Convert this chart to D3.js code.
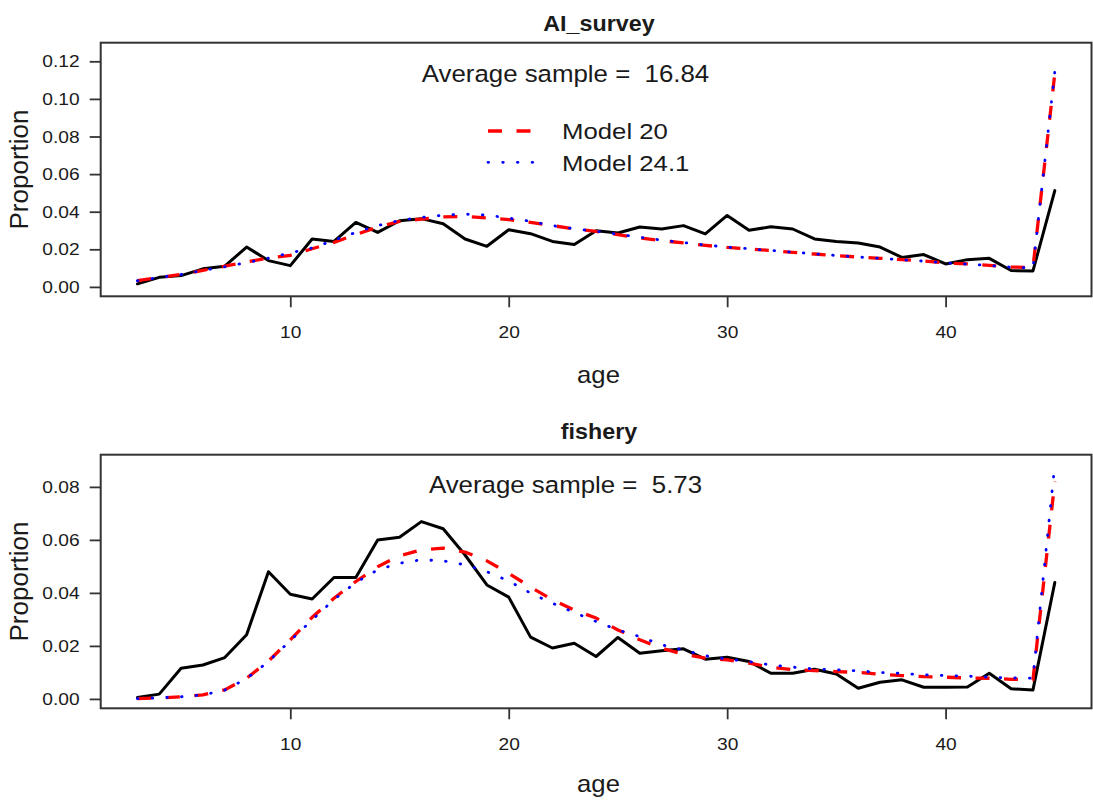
<!DOCTYPE html>
<html>
<head>
<meta charset="utf-8">
<script src="https://cdn.jsdelivr.net/npm/d3@7"></script>
<style>
  html, body { margin: 0; padding: 0; background: #fff; }
  svg { display: block; }
  text { font-family: "Liberation Sans", Arial, Helvetica, sans-serif; fill: #1a1a1a; white-space: pre; }
</style>
</head>
<body>
<svg id="chart" width="1093" height="802"></svg>
<script>
// Age classes shared by both panels
const ages = [3, 4, 5, 6, 7, 8, 9, 10, 11, 12, 13, 14, 15, 16, 17, 18, 19, 20, 21, 22, 23,
              24, 25, 26, 27, 28, 29, 30, 31, 32, 33, 34, 35, 36, 37, 38, 39, 40, 41, 42, 43, 44, 45];

// AI_survey: observed proportions and the two model fits
const surveyObs = [0.0016, 0.0051, 0.0060, 0.0096, 0.0110, 0.0212, 0.0140, 0.0113, 0.0255, 0.0242, 0.0343,
                   0.0290, 0.0352, 0.0363, 0.0336, 0.0255, 0.0216, 0.0304, 0.0283, 0.0242, 0.0225,
                   0.0299, 0.0287, 0.0319, 0.0308, 0.0326, 0.0282, 0.0380, 0.0301, 0.0320, 0.0308,
                   0.0255, 0.0242, 0.0234, 0.0212, 0.0157, 0.0172, 0.0122, 0.0145, 0.0152, 0.0087, 0.0085, 0.0512];
const surveyModel20 = [0.0033, 0.0050, 0.0067, 0.0088, 0.0110, 0.0133, 0.0154, 0.0168, 0.0203, 0.0237, 0.0278,
                       0.0319, 0.0348, 0.0361, 0.0372, 0.0375, 0.0367, 0.0358, 0.0343, 0.0326, 0.0309,
                       0.0295, 0.0278, 0.0260, 0.0246, 0.0234, 0.0221, 0.0210, 0.0202, 0.0193, 0.0184,
                       0.0175, 0.0166, 0.0159, 0.0152, 0.0145, 0.0138, 0.0127, 0.0122, 0.0115, 0.0106, 0.0103, 0.1135];
const surveyModel241 = [0.0033, 0.0050, 0.0066, 0.0088, 0.0107, 0.0129, 0.0153, 0.0181, 0.0207, 0.0248, 0.0290,
                        0.0326, 0.0354, 0.0370, 0.0382, 0.0387, 0.0382, 0.0366, 0.0349, 0.0326, 0.0309,
                        0.0296, 0.0280, 0.0264, 0.0249, 0.0236, 0.0223, 0.0212, 0.0203, 0.0194, 0.0185,
                        0.0176, 0.0167, 0.0159, 0.0152, 0.0144, 0.0137, 0.0127, 0.0121, 0.0114, 0.0105, 0.0101, 0.1145];

// fishery: observed proportions and the two model fits
const fisheryObs = [0.0005, 0.0018, 0.0116, 0.0128, 0.0156, 0.0242, 0.0480, 0.0395, 0.0377, 0.0458, 0.0458,
                    0.0600, 0.0610, 0.0669, 0.0642, 0.0543, 0.0430, 0.0384, 0.0233, 0.0192, 0.0210,
                    0.0160, 0.0232, 0.0172, 0.0182, 0.0189, 0.0150, 0.0157, 0.0141, 0.0097, 0.0097,
                    0.0112, 0.0094, 0.0040, 0.0063, 0.0072, 0.0044, 0.0044, 0.0045, 0.0097, 0.0038, 0.0034, 0.0439];
const fisheryModel20 = [0.0001, 0.0004, 0.0008, 0.0015, 0.0034, 0.0078, 0.0143, 0.0223, 0.0308, 0.0380, 0.0443,
                        0.0499, 0.0540, 0.0562, 0.0569, 0.0554, 0.0521, 0.0474, 0.0422, 0.0374, 0.0335,
                        0.0305, 0.0260, 0.0223, 0.0191, 0.0169, 0.0154, 0.0147, 0.0135, 0.0120, 0.0110,
                        0.0107, 0.0103, 0.0100, 0.0093, 0.0088, 0.0084, 0.0082, 0.0079, 0.0078, 0.0074, 0.0072, 0.0820];
const fisheryModel241 = [0.0001, 0.0004, 0.0008, 0.0015, 0.0033, 0.0077, 0.0141, 0.0220, 0.0298, 0.0375, 0.0439,
                         0.0487, 0.0512, 0.0525, 0.0521, 0.0506, 0.0480, 0.0445, 0.0399, 0.0361, 0.0326,
                         0.0292, 0.0260, 0.0235, 0.0204, 0.0185, 0.0163, 0.0150, 0.0141, 0.0128, 0.0120,
                         0.0113, 0.0110, 0.0106, 0.0100, 0.0096, 0.0091, 0.0088, 0.0086, 0.0082, 0.0079, 0.0078, 0.0884];

// Axis ticks and labels
const xTicks = [10, 20, 30, 40];
const surveyYTicks = [0, 0.02, 0.04, 0.06, 0.08, 0.10, 0.12];
const fisheryYTicks = [0, 0.02, 0.04, 0.06, 0.08];
const panelTitles = ["AI_survey", "fishery"];
const averageSamples = ["16.84", "5.73"];
const modelNames = ["Model 20", "Model 24.1"];
const xLabel = "age";
const yLabel = "Proportion";

// Upper y limits used for each panel (R-style 4% padding is added below)
const yUpper = [0.1249, 0.0886];

const panels = [
  { title: panelTitles[0], obs: surveyObs, m20: surveyModel20, m241: surveyModel241,
    yTicks: surveyYTicks, yMax: yUpper[0], avg: averageSamples[0], legend: true,
    top: 42.7, bottom: 296.3, titleY: 30.5, avgY: 81.7, ageY: 382.5 },
  { title: panelTitles[1], obs: fisheryObs, m20: fisheryModel20, m241: fisheryModel241,
    yTicks: fisheryYTicks, yMax: yUpper[1], avg: averageSamples[1], legend: false,
    top: 454.7, bottom: 708.3, titleY: 438.5, avgY: 493.3, ageY: 792 }
];

const svg = d3.select("#chart");
const left = 100.7, right = 1091.5;
const boxColor = "#333";
const red = "#ff0000", blue = "#0000ff";
const redDash = "14,14.5", blueDots = "0.6,14.1";

// Text helper: anchor point, optional rotation and horizontal stretch
function label(g, s, x, y, o) {
  return g.append("text")
    .attr("transform", `translate(${x},${y}) rotate(${o.rot || 0}) scale(${o.sx || 1},1)`)
    .attr("text-anchor", o.anchor || "middle")
    .attr("xml:space", "preserve")
    .style("font-size", o.size + "px")
    .style("font-weight", o.weight || "normal")
    .text(s);
}

const xMin = d3.min(ages), xMax = d3.max(ages);
const xPad = 0.04 * (xMax - xMin);
const x = d3.scaleLinear().domain([xMin - xPad, xMax + xPad]).range([left, right]);

panels.forEach(p => {
  const g = svg.append("g");
  const y = d3.scaleLinear().domain([-0.04 * p.yMax, 1.04 * p.yMax]).range([p.bottom, p.top]);

  const rows = ages.map((a, i) => ({ age: a, obs: p.obs[i], m20: p.m20[i], m241: p.m241[i] }));
  const line = key => d3.line().x(d => x(d.age)).y(d => y(d[key]));

  // observed
  g.append("path").datum(rows).attr("d", line("obs"))
    .attr("fill", "none").attr("stroke", "#000").attr("stroke-width", 3)
    .attr("stroke-linejoin", "round").attr("stroke-linecap", "round");
  // Model 20 (dashed red)
  g.append("path").datum(rows).attr("d", line("m20"))
    .attr("fill", "none").attr("stroke", red).attr("stroke-width", 3.3)
    .attr("stroke-dasharray", redDash).attr("stroke-linejoin", "round");
  // Model 24.1 (dotted blue)
  g.append("path").datum(rows).attr("d", line("m241"))
    .attr("fill", "none").attr("stroke", blue).attr("stroke-width", 2.8)
    .attr("stroke-dasharray", blueDots).attr("stroke-linecap", "round");

  // axes
  const yAxis = g.append("g").attr("transform", `translate(${left},0)`)
    .call(d3.axisLeft(y).tickValues(p.yTicks).tickFormat(d3.format(".2f")).tickSize(11));
  const xAxis = g.append("g").attr("transform", `translate(0,${p.bottom})`)
    .call(d3.axisBottom(x).tickValues(xTicks).tickFormat(d3.format("d")).tickSize(11));
  [yAxis, xAxis].forEach(a => {
    a.select(".domain").remove();
    a.selectAll(".tick line").attr("stroke", boxColor).attr("stroke-width", 1.8);
    a.selectAll(".tick text").attr("fill", "#1a1a1a")
      .style("font-family", '"Liberation Sans", Arial, sans-serif').style("font-size", "17px");
  });
  yAxis.selectAll(".tick text")
    .attr("x", 0).attr("dy", "0.33em")
    .attr("transform", "translate(-21,0) scale(1.13,1)");
  xAxis.selectAll(".tick text")
    .attr("y", 0).attr("dy", 0)
    .attr("transform", "translate(0,42) scale(1.13,1)");

  // plot box
  g.append("rect").attr("x", left).attr("y", p.top)
    .attr("width", right - left).attr("height", p.bottom - p.top)
    .attr("fill", "none").attr("stroke", boxColor).attr("stroke-width", 2);

  // texts
  label(g, p.title, 599, p.titleY, { size: 22, weight: "bold", sx: 1.06 });
  label(g, `Average sample =  ${p.avg}`, 565.5, p.avgY, { size: 23.5, sx: 1.1 });
  label(g, xLabel, 598.5, p.ageY, { size: 24, sx: 1.07 });
  label(g, yLabel, 28, (p.top + p.bottom) / 2, { size: 25, rot: -90, sx: 1.04 });

  if (p.legend) {
    const lg = g.append("g");
    const keys = [
      { name: modelNames[0], color: red, dash: redDash, w: 3.3, cap: "butt", y: 131 },
      { name: modelNames[1], color: blue, dash: blueDots, w: 2.8, cap: "round", y: 162.3 }
    ];
    keys.forEach(k => {
      lg.append("line").attr("x1", 488).attr("x2", 534).attr("y1", k.y).attr("y2", k.y)
        .attr("stroke", k.color).attr("stroke-width", k.w)
        .attr("stroke-dasharray", k.dash).attr("stroke-linecap", k.cap);
      label(lg, k.name, 562, k.y + 8.2, { size: 23, anchor: "start", sx: 1.12 });
    });
  }
});
</script>
</body>
</html>
